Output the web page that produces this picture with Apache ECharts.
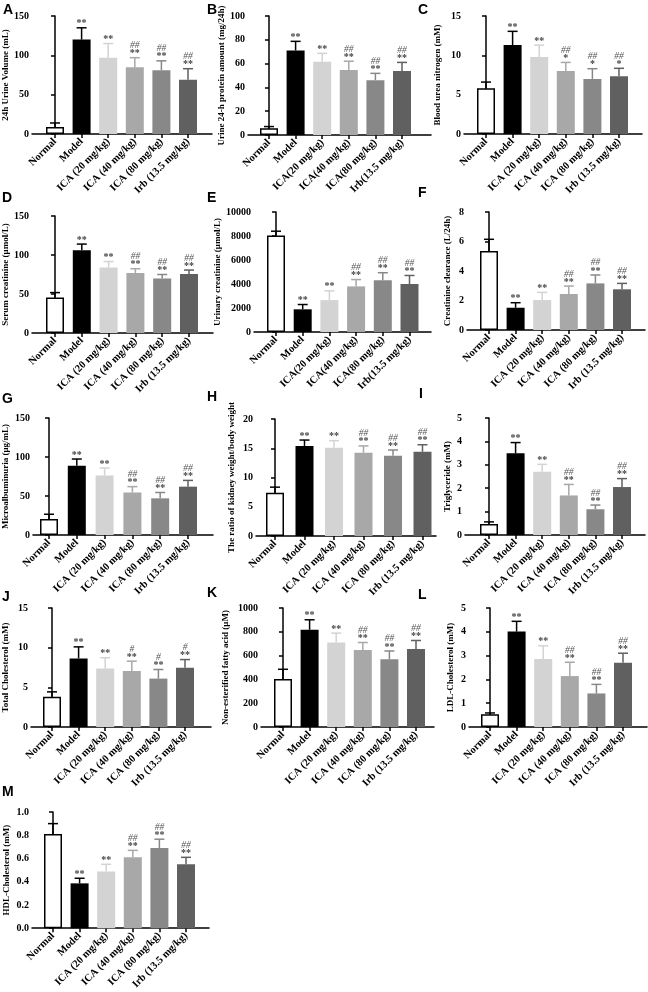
<!DOCTYPE html>
<html><head><meta charset="utf-8">
<script src="https://cdn.jsdelivr.net/npm/echarts@6/dist/echarts.min.js"></script>
<style>html,body{margin:0;padding:0;background:#fff}#c{width:648px;height:992px}</style>
</head><body><div id="c"></div>
<script>
// ---------- categories ----------
const categories = ['Normal','Model','ICA (20 mg/kg)','ICA (40 mg/kg)','ICA (80 mg/kg)','Irb (13.5 mg/kg)'];
const categoriesCompact = ['Normal','Model','ICA(20 mg/kg)','ICA(40 mg/kg)','ICA(80 mg/kg)','Irb(13.5 mg/kg)'];

// ---------- data (mean, error) ----------
const urineVolume = [9, 120, 97, 85, 81, 69];
const urineVolumeErr = [5, 15, 18, 12, 12, 14];
const urineProtein = [5.6, 71, 61.6, 54.6, 46, 53.8];
const urineProteinErr = [1.5, 7.7, 7, 7.4, 5.8, 7.2];
const bloodUreaN = [5.8, 11.3, 9.8, 8.0, 7.0, 7.35];
const bloodUreaNErr = [0.8, 1.75, 1.5, 1.1, 1.3, 1.0];
const serumCreatinine = [45.5, 106, 84, 77, 70, 75.6];
const serumCreatinineErr = [6.3, 8, 7.6, 5.4, 5, 5.1];
const urinaryCreatinine = [8050, 1890, 2660, 3800, 4310, 4000];
const urinaryCreatinineErr = [350, 400, 770, 570, 630, 710];
const creatinineClearance = [5.35, 1.51, 2.03, 2.44, 3.16, 2.76];
const creatinineClearanceErr = [0.8, 0.34, 0.52, 0.54, 0.57, 0.4];
const microalbuminuria = [20.6, 88.8, 76.4, 54.5, 47, 62];
const microalbuminuriaErr = [6, 8.6, 9.4, 7.5, 7.5, 8];
const kidneyRatio = [7.4, 15.4, 15.1, 14.25, 13.7, 14.4];
const kidneyRatioErr = [0.95, 1.0, 1.2, 1.15, 1.0, 1.2];
const triglyceride = [0.47, 3.49, 2.7, 1.69, 1.1, 2.05];
const triglycerideErr = [0.09, 0.46, 0.32, 0.47, 0.18, 0.36];
const totalCholesterol = [3.8, 8.65, 7.38, 7.07, 6.1, 7.46];
const totalCholesterolErr = [0.63, 1.45, 1.35, 1.23, 1.15, 1.04];
const nefa = [403, 817, 710, 648, 569, 656];
const nefaErr = [82, 84, 79, 62, 70, 71];
const ldl = [0.535, 4.01, 2.86, 2.14, 1.41, 2.7];
const ldlErr = [0.055, 0.43, 0.55, 0.58, 0.38, 0.4];
const hdl = [0.81, 0.386, 0.487, 0.61, 0.69, 0.55];
const hdlErr = [0.09, 0.044, 0.063, 0.06, 0.076, 0.06];

// ---------- significance marks ----------
const starsAll = ['', '**', '**', '**', '**', '**'];
const starsBUN = ['', '**', '**', '*', '*', '*'];
const hashDouble = ['', '', '', '##', '##', '##'];
const hashSingle = ['', '', '', '#', '#', '#'];

// ---------- axis maxima / steps ----------
const yMaxes = [150, 100, 15, 150, 10000, 8, 150, 20, 5, 15, 1000, 5, 1.0];
const ySteps = [50, 20, 5, 50, 2000, 2, 50, 5, 1, 5, 200, 1, 0.2];

// ---------- styles ----------
const barColors = ['#ffffff', '#000000', '#d3d3d3', '#a8a8a8', '#888888', '#606060'];
const errColors = ['#000000', '#000000', '#d3d3d3', '#a8a8a8', '#888888', '#606060'];
const SERIF = '"Liberation Serif", "Times New Roman", serif';

const panels = [
  {letter:'A', name:'24h Urine Volume (mL)', cats:categories, mean:urineVolume, err:urineVolumeErr, star:starsAll, hash:hashDouble},
  {letter:'B', name:'Urine 24-h protein amount (mg/24h)', cats:categoriesCompact, mean:urineProtein, err:urineProteinErr, star:starsAll, hash:hashDouble},
  {letter:'C', name:'Blood urea nitrogen (mM)', cats:categories, mean:bloodUreaN, err:bloodUreaNErr, star:starsBUN, hash:hashDouble},
  {letter:'D', name:'Serum creatinine (\u03bcmol/L)', cats:categories, mean:serumCreatinine, err:serumCreatinineErr, star:starsAll, hash:hashDouble},
  {letter:'E', name:'Urinary creatinine (\u03bcmol/L)', cats:categoriesCompact, mean:urinaryCreatinine, err:urinaryCreatinineErr, star:starsAll, hash:hashDouble},
  {letter:'F', name:'Creatinine clearance (L/24h)', cats:categories, mean:creatinineClearance, err:creatinineClearanceErr, star:starsAll, hash:hashDouble},
  {letter:'G', name:'Microalbuminuria (\u03bcg/mL)', cats:categories, mean:microalbuminuria, err:microalbuminuriaErr, star:starsAll, hash:hashDouble},
  {letter:'H', name:'The ratio of kidney weight/body weight', cats:categories, mean:kidneyRatio, err:kidneyRatioErr, star:starsAll, hash:hashDouble},
  {letter:'I', name:'Triglyceride (mM)', cats:categories, mean:triglyceride, err:triglycerideErr, star:starsAll, hash:hashDouble},
  {letter:'J', name:'Total Cholesterol (mM)', cats:categories, mean:totalCholesterol, err:totalCholesterolErr, star:starsAll, hash:hashSingle},
  {letter:'K', name:'Non-esterified fatty acid (\u03bcM)', cats:categories, mean:nefa, err:nefaErr, star:starsAll, hash:hashDouble},
  {letter:'L', name:'LDL-Cholesterol (mM)', cats:categories, mean:ldl, err:ldlErr, star:starsAll, hash:hashDouble},
  {letter:'M', name:'HDL-Cholesterol (mM)', cats:categories, mean:hdl, err:hdlErr, star:starsAll, hash:hashDouble, dec:1}
];

// ---------- layout (pixels) ----------
const layouts = [
  {left:32, right:212, top:16, bottom:134, first:55, step:26.6, nameGap:19, lx:3, ly:3},
  {left:248, right:431, top:16, bottom:135, first:269, step:26.6, nameGap:22, lx:207, ly:3},
  {left:464, right:642, top:16, bottom:134, first:486, step:26.6, nameGap:22, lx:418, ly:3},
  {left:32, right:213, top:216, bottom:333, first:55, step:26.8, nameGap:22, lx:2, ly:191},
  {left:254, right:431, top:212, bottom:332, first:276, step:26.7, nameGap:28, lx:207, ly:191},
  {left:467, right:645, top:212, bottom:330, first:489, step:26.6, nameGap:15, lx:418, ly:186},
  {left:33, right:213, top:418, bottom:535, first:49, step:27.8, nameGap:23, lx:2, ly:392},
  {left:256, right:436, top:419, bottom:536, first:275, step:29.5, nameGap:20, lx:207, ly:390},
  {left:465, right:645, top:418, bottom:535, first:489, step:26.6, nameGap:13, lx:419, ly:387},
  {left:31, right:211, top:608, bottom:727, first:52, step:26.6, nameGap:21, lx:2, ly:590},
  {left:261, right:434, top:608, bottom:727, first:283, step:26.6, nameGap:31, lx:207, ly:586},
  {left:469, right:647, top:608, bottom:727, first:490, step:26.6, nameGap:14, lx:418, ly:588},
  {left:32, right:209, top:812, bottom:930, first:53, step:26.6, nameGap:21, lx:2, ly:785}
];

const grids = [], xAxes = [], yAxes = [], series = [], titles = [];
const idx = [0, 1, 2, 3, 4, 5];
panels.forEach((p, i) => {
  const g = layouts[i];
  grids.push({left:g.left, top:g.top, width:g.right - g.left, height:g.bottom - g.top});
  titles.push({text:p.letter, left:g.lx, top:g.ly, padding:0,
    textStyle:{fontFamily:'"Liberation Sans", Arial, sans-serif', fontWeight:'bold', fontSize:14, color:'#000'}});
  xAxes.push({
    type:'value', gridIndex:i,
    min:(g.left - g.first) / g.step, max:(g.right - g.first) / g.step,
    axisLine:{show:true, onZero:false, lineStyle:{color:'#000', width:1.5}},
    axisTick:{show:true, customValues:idx, length:4, lineStyle:{color:'#000', width:1.5}},
    axisLabel:{show:true, customValues:idx, rotate:45, margin:6,
      formatter:v => p.cats[Math.round(v)] || '',
      color:'#000', fontFamily:SERIF, fontWeight:'bold', fontSize:10.5},
    splitLine:{show:false}
  });
  yAxes.push({
    type:'value', gridIndex:i, min:0, max:yMaxes[i], interval:ySteps[i],
    name:p.name, nameLocation:'middle', nameGap:g.nameGap, nameRotate:90,
    nameTextStyle:{color:'#000', fontFamily:SERIF, fontWeight:'bold', fontSize:9},
    axisLine:{show:true, lineStyle:{color:'#000', width:1.5}},
    axisTick:{show:true, length:4, lineStyle:{color:'#000', width:1.5}},
    axisLabel:{color:'#000', fontFamily:SERIF, fontWeight:'bold', fontSize:10, margin:3,
      formatter:v => p.dec ? v.toFixed(p.dec) : String(v)},
    splitLine:{show:false}
  });
  series.push({
    type:'bar', xAxisIndex:i, yAxisIndex:i, barWidth:18, silent:true, animation:false,
    data:p.mean.map((v, k) => ({value:[k, v], itemStyle:{color:barColors[k],
      borderColor:k === 0 ? '#000' : barColors[k], borderWidth:k === 0 ? 1.5 : 0}}))
  });
  series.push({
    type:'custom', xAxisIndex:i, yAxisIndex:i, clip:false, silent:true, animation:false, z:5,
    data:p.mean.map((v, k) => [k, v, p.err[k]]),
    renderItem:(params, api) => {
      const k = params.dataIndex;
      const x = api.value(0), v = api.value(1), e = api.value(2);
      const b = api.coord([x, v]), t = api.coord([x, v + e]);
      const col = errColors[k];
      const ch = [
        {type:'line', shape:{x1:b[0], y1:b[1], x2:t[0], y2:t[1]}, style:{stroke:col, lineWidth:1.5}},
        {type:'line', shape:{x1:t[0] - 5, y1:t[1], x2:t[0] + 5, y2:t[1]}, style:{stroke:col, lineWidth:1.5}}
      ];
      if (p.star[k]) ch.push({type:'text', x:t[0], y:t[1] + 1,
        style:{text:p.star[k], align:'center', verticalAlign:'bottom', fill:'#444', font:'bold 10px ' + SERIF}});
      if (p.hash[k]) ch.push({type:'text', x:t[0], y:t[1] - 7,
        style:{text:p.hash[k], align:'center', verticalAlign:'bottom', fill:'#555', font:'italic 9.5px ' + SERIF}});
      return {type:'group', children:ch};
    }
  });
});

const chart = echarts.init(document.getElementById('c'), null, {renderer:'canvas', width:648, height:992});
chart.setOption({
  animation:false, backgroundColor:'#ffffff',
  title:titles, grid:grids, xAxis:xAxes, yAxis:yAxes, series:series
});
</script>
</body></html>
